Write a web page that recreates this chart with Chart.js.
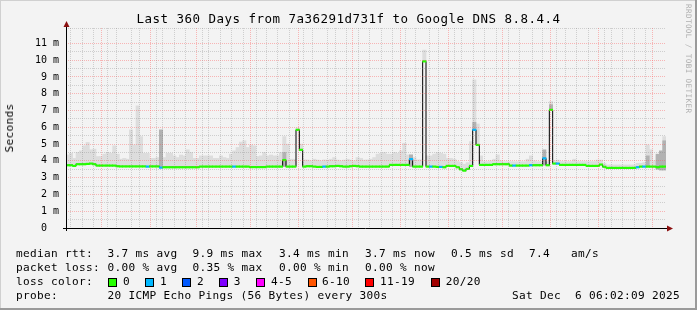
<!DOCTYPE html>
<html>
<head>
<meta charset="utf-8">
<script src="https://cdn.jsdelivr.net/npm/chart.js@4.4.1/dist/chart.umd.min.js"></script>
<style>
  html, body { margin: 0; padding: 0; background: #f3f3f3; }
  #wrap { position: relative; width: 697px; height: 310px; background: #f3f3f3; overflow: hidden; }
  #wrap canvas { position: absolute; left: 0; top: 0; }
  .t { position: absolute; font-family: 'DejaVu Sans Mono', monospace; white-space: pre; color: #000; }
  #title { left: 0; width: 697px; top: 11px; text-align: center; font-size: 12.5px; letter-spacing: 0.47px; line-height: 16px; }
  .lg { font-size: 11.1px; letter-spacing: 0.32px; line-height: 14px; }
  .box { position: absolute; width: 9px; height: 9px; box-sizing: border-box; border: 1px solid #000; }
  #ylab { left: 10px; top: 128px; font-size: 11.1px; letter-spacing: 0.32px; line-height: 14px;
          transform: translate(-50%, -50%) rotate(-90deg); }
  #wm { left: 684px; top: 4px; font-size: 7.6px; letter-spacing: 0.4px; color: #b0b0b0; writing-mode: vertical-rl; line-height: 8px; }
  #frame { position: absolute; left: 0; top: 0; width: 697px; height: 310px; pointer-events: none;
           box-shadow: inset -2px -2px 0 #9a9a9a, inset 1px 1px 0 #d0d0d0; }
</style>
</head>
<body>
<div id="wrap">
  <canvas id="chart" width="697" height="310"></canvas>
  <div class="t" id="title">Last 360 Days from 7a36291d731f to Google DNS 8.8.4.4</div>
  <div class="t" id="ylab">Seconds</div>
  <div class="t" id="wm">RRDTOOL / TOBI OETIKER</div>

  <div class="t lg" style="left:16px;top:247px">median rtt:</div>
  <div class="t lg" style="left:107.6px;top:247px">3.7 ms avg</div>
  <div class="t lg" style="left:192.4px;top:247px">9.9 ms max</div>
  <div class="t lg" style="left:279.1px;top:247px">3.4 ms min</div>
  <div class="t lg" style="left:364.9px;top:247px">3.7 ms now</div>
  <div class="t lg" style="left:451.1px;top:247px">0.5 ms sd</div>
  <div class="t lg" style="left:528.9px;top:247px">7.4   am/s</div>

  <div class="t lg" style="left:16px;top:261px">packet loss:</div>
  <div class="t lg" style="left:107.6px;top:261px">0.00 % avg</div>
  <div class="t lg" style="left:192.4px;top:261px">0.35 % max</div>
  <div class="t lg" style="left:279.1px;top:261px">0.00 % min</div>
  <div class="t lg" style="left:364.9px;top:261px">0.00 % now</div>

  <div class="t lg" style="left:16px;top:275px">loss color:</div>
  <div class="box" style="left:108px;top:277.5px;background:#26ff00"></div><div class="t lg" style="left:123px;top:275px">0</div>
  <div class="box" style="left:145.3px;top:277.5px;background:#00b8ff"></div><div class="t lg" style="left:160px;top:275px">1</div>
  <div class="box" style="left:182.2px;top:277.5px;background:#0059ff"></div><div class="t lg" style="left:197px;top:275px">2</div>
  <div class="box" style="left:219px;top:277.5px;background:#7e00ff"></div><div class="t lg" style="left:233.8px;top:275px">3</div>
  <div class="box" style="left:256.4px;top:277.5px;background:#ff00ff"></div><div class="t lg" style="left:271px;top:275px">4-5</div>
  <div class="box" style="left:307.6px;top:277.5px;background:#ff5500"></div><div class="t lg" style="left:322px;top:275px">6-10</div>
  <div class="box" style="left:365.3px;top:277.5px;background:#ff0000"></div><div class="t lg" style="left:380px;top:275px">11-19</div>
  <div class="box" style="left:431px;top:277.5px;background:#a10000"></div><div class="t lg" style="left:445.8px;top:275px">20/20</div>

  <div class="t lg" style="left:16px;top:289px">probe:</div>
  <div class="t lg" style="left:107.6px;top:289px">20 ICMP Echo Pings (56 Bytes) every 300s</div>
  <div class="t lg" style="right:17px;top:289px">Sat Dec  6 06:02:09 2025</div>
  <div id="frame"></div>
</div>
<script>
"use strict";

// 180 bins of 2 days each, Dec 11 2024 -> Dec 6 2025 (values in ms)
const median = [
  3.74, 3.74, 3.70, 3.80, 3.80, 3.80, 3.82, 3.84, 3.80, 3.72,
  3.72, 3.72, 3.72, 3.72, 3.72, 3.68, 3.67, 3.67, 3.67, 3.67,
  3.67, 3.67, 3.67, 3.67, 3.66, 3.67, 3.67, 3.67, 3.60, 3.62,
  3.62, 3.62, 3.62, 3.62, 3.62, 3.62, 3.62, 3.62, 3.62, 3.62,
  3.66, 3.66, 3.66, 3.66, 3.66, 3.66, 3.66, 3.66, 3.66, 3.66,
  3.66, 3.66, 3.66, 3.66, 3.66, 3.63, 3.63, 3.63, 3.63, 3.63,
  3.66, 3.66, 3.66, 3.66, 3.66, 4.05, 3.66, 3.66, 3.66, 5.85,
  4.66, 3.66, 3.68, 3.68, 3.66, 3.64, 3.64, 3.66, 3.66, 3.68,
  3.68, 3.70, 3.68, 3.66, 3.66, 3.68, 3.70, 3.68, 3.66, 3.66,
  3.66, 3.66, 3.66, 3.66, 3.66, 3.66, 3.66, 3.76, 3.76, 3.76,
  3.76, 3.76, 3.76, 4.10, 3.66, 3.66, 3.66, 9.93, 3.66, 3.66,
  3.66, 3.64, 3.64, 3.62, 3.70, 3.70, 3.70, 3.62, 3.50, 3.42,
  3.52, 3.70, 5.85, 4.95, 3.76, 3.76, 3.76, 3.76, 3.80, 3.80,
  3.80, 3.80, 3.80, 3.72, 3.72, 3.72, 3.72, 3.72, 3.72, 3.74,
  3.74, 3.74, 3.74, 4.15, 3.74, 7.04, 3.84, 3.84, 3.76, 3.76,
  3.76, 3.76, 3.76, 3.76, 3.76, 3.76, 3.70, 3.70, 3.70, 3.70,
  3.78, 3.65, 3.58, 3.58, 3.58, 3.58, 3.58, 3.58, 3.58, 3.58,
  3.58, 3.62, 3.66, 3.66, 3.66, 3.66, 3.66, 3.62, 3.66, 3.66
];

// lost pings per bin (index into lossColors)
const loss = [
  0, 0, 0, 0, 0, 0, 0, 0, 0, 0,
  0, 0, 0, 0, 0, 0, 0, 0, 0, 0,
  0, 0, 0, 0, 1, 0, 0, 0, 1, 0,
  0, 0, 0, 0, 0, 0, 0, 0, 0, 0,
  0, 0, 0, 0, 0, 0, 0, 0, 0, 0,
  1, 0, 0, 0, 0, 0, 0, 0, 0, 0,
  0, 0, 0, 0, 0, 0, 0, 0, 0, 0,
  0, 0, 0, 0, 0, 0, 0, 1, 0, 0,
  0, 0, 0, 0, 0, 0, 0, 0, 0, 0,
  0, 0, 0, 0, 0, 0, 0, 0, 0, 0,
  0, 0, 0, 1, 0, 0, 0, 0, 0, 1,
  0, 0, 1, 0, 0, 0, 0, 0, 0, 0,
  0, 0, 1, 0, 0, 0, 0, 0, 0, 0,
  0, 0, 0, 0, 1, 0, 0, 0, 0, 1,
  0, 0, 0, 1, 0, 0, 0, 1, 0, 0,
  0, 0, 0, 0, 0, 0, 0, 0, 0, 0,
  0, 0, 0, 0, 0, 0, 0, 0, 0, 0,
  0, 1, 0, 1, 0, 0, 0, 0, 0, 0
];

// top of the smoke (highest pings) per bin
const smokeHi = [
  4.36, 4.45, 4.15, 4.50, 4.60, 4.90, 5.10, 4.66, 4.70, 4.26,
  4.26, 4.40, 4.50, 4.45, 4.90, 4.40, 4.10, 4.15, 4.10, 5.85,
  4.95, 7.28, 5.45, 4.45, 4.45, 4.15, 4.15, 4.20, 4.30, 4.20,
  4.45, 4.45, 4.30, 4.20, 4.35, 4.30, 4.66, 4.50, 4.15, 4.15,
  4.30, 4.30, 4.30, 4.30, 4.15, 4.15, 4.30, 4.20, 4.15, 4.40,
  4.60, 4.80, 5.12, 5.20, 4.80, 4.95, 4.90, 4.26, 4.30, 4.50,
  4.30, 4.35, 4.30, 4.30, 4.50, 5.45, 5.00, 4.10, 4.10, 5.97,
  5.00, 4.06, 4.05, 4.00, 4.10, 4.05, 4.00, 4.06, 4.05, 4.10,
  4.20, 4.05, 4.00, 4.05, 4.10, 4.05, 4.00, 4.20, 4.15, 4.05,
  4.06, 4.10, 4.20, 4.40, 4.45, 4.50, 4.40, 4.40, 4.50, 4.45,
  4.60, 5.05, 4.36, 4.36, 4.20, 4.06, 4.06, 10.60, 4.30, 4.30,
  4.40, 4.50, 4.45, 4.40, 4.15, 4.15, 4.10, 3.96, 3.90, 3.80,
  3.90, 5.15, 8.83, 6.20, 4.30, 3.96, 3.96, 4.00, 4.10, 4.36,
  4.00, 3.95, 3.95, 3.95, 3.95, 3.95, 3.95, 3.95, 4.10, 4.30,
  4.00, 3.95, 3.95, 4.30, 3.95, 7.54, 4.00, 4.05, 3.96, 3.96,
  3.96, 3.96, 4.10, 3.96, 3.96, 3.96, 3.96, 3.96, 3.96, 4.05,
  4.05, 3.85, 3.76, 3.76, 3.76, 3.76, 3.76, 3.76, 3.76, 3.76,
  3.76, 3.86, 3.86, 3.90, 4.95, 4.66, 4.00, 4.30, 4.40, 5.45
];

// denser (darker) smoke where pings were lost
const darkBins = [28, 65, 103, 122, 143, 145, 174, 177, 178, 179];
const darkLo = [3.60, 3.66, 3.66, 5.85, 3.74, 7.04, 3.66, 3.50, 3.45, 3.45];
const darkHi = [5.85, 4.50, 4.36, 6.30, 4.66, 7.35, 4.30, 4.40, 4.60, 5.20];

const lossColors = ['#26ff00', '#00b8ff', '#0059ff', '#7e00ff', '#ff00ff', '#ff5500', '#ff0000', '#a10000'];

const monthLabels = ['January 2025', 'March 2025', 'May 2025', 'July 2025', 'September 2025', 'November 2025'];
const labelMonths = [0, 2, 4, 6, 8, 10];

const startMs = Date.UTC(2024, 11, 11, 6, 2, 9);
const spanDays = 360;

function dayOf(y, m, d) {
  return (Date.UTC(y, m, d) - startMs) / 86400000;
}

function buildTimeTicks() {
  let ticks = [];
  for (let w = 0; ; w++) {
    let v = dayOf(2024, 11, 15 + 7 * w);   // Sundays
    if (v > spanDays) break;
    ticks.push({ value: v, kind: 'week' });
  }
  for (let m = 0; m < 12; m++) {
    ticks.push({ value: dayOf(2025, m, 1), kind: 'month' });
  }
  labelMonths.forEach((m, i) => {
    ticks.push({ value: dayOf(2025, m, 16), kind: 'label', text: monthLabels[i] });
  });
  return ticks.sort((a, b) => a.value - b.value);
}
const timeTicks = buildTimeTicks();

let darkData = median.map(() => null);
darkBins.forEach((b, i) => { darkData[b] = [darkLo[i], darkHi[i]]; });

const GRID_MAJOR = 'rgba(255, 80, 80, 0.38)';
const GRID_MINOR = 'rgba(128, 128, 128, 0.32)';
const axisFont = { family: 'DejaVu Sans Mono', size: 10 };

const axesPlugin = {
  id: 'rrdAxes',
  afterDraw(chart) {
    const ctx = chart.ctx;
    const a = chart.chartArea;
    ctx.save();
    ctx.strokeStyle = '#000';
    ctx.lineWidth = 1;
    ctx.beginPath();
    ctx.moveTo(a.left - 3, a.bottom + 0.5);
    ctx.lineTo(a.right + 2, a.bottom + 0.5);
    ctx.moveTo(a.left + 0.5, a.bottom + 3);
    ctx.lineTo(a.left + 0.5, a.top - 4);
    ctx.stroke();
    ctx.fillStyle = '#8b1010';
    ctx.beginPath();
    ctx.moveTo(a.right + 7, a.bottom + 0.5);
    ctx.lineTo(a.right + 1, a.bottom - 2.5);
    ctx.lineTo(a.right + 1, a.bottom + 3.5);
    ctx.closePath();
    ctx.fill();
    ctx.beginPath();
    ctx.moveTo(a.left + 0.5, a.top - 7);
    ctx.lineTo(a.left - 2.5, a.top - 1);
    ctx.lineTo(a.left + 3.5, a.top - 1);
    ctx.closePath();
    ctx.fill();
    ctx.restore();
  }
};

const barCommon = {
  type: 'bar',
  grouped: false,
  barPercentage: 1,
  categoryPercentage: 1,
  borderWidth: 0,
  xAxisID: 'x',
  yAxisID: 'y'
};

new Chart(document.getElementById('chart'), {
  type: 'bar',
  data: {
    labels: median.map((v, i) => String(i)),
    datasets: [
      Object.assign({}, barCommon, {
        label: 'median',
        data: median.map(v => [v - 0.045, v + 0.045]),
        backgroundColor: loss.map(l => lossColors[l]),
        order: 1
      }),
      {
        type: 'line',
        label: 'median step',
        data: median,
        stepped: 'middle',
        borderColor: '#000',
        borderWidth: 1,
        pointRadius: 0,
        xAxisID: 'x',
        yAxisID: 'y',
        order: 2
      },
      Object.assign({}, barCommon, {
        label: 'dense smoke',
        data: darkData,
        backgroundColor: '#b2b2b2',
        order: 3
      }),
      Object.assign({}, barCommon, {
        label: 'smoke',
        data: median.map((v, i) => [v, smokeHi[i]]),
        backgroundColor: '#dddddd',
        order: 4
      })
    ]
  },
  options: {
    responsive: false,
    animation: false,
    events: [],
    layout: { padding: { left: 0, right: 31, top: 28, bottom: 82 } },
    plugins: { legend: { display: false }, tooltip: { enabled: false }, title: { display: false } },
    scales: {
      x: { type: 'category', display: false, offset: true, grid: { display: false } },
      y: {
        type: 'linear',
        position: 'left',
        min: 0,
        max: 11.92,
        afterFit: s => { s.width = 66; },
        ticks: {
          stepSize: 0.5,
          autoSkip: false,
          padding: 7,
          color: '#000',
          font: axisFont,
          callback: v => {
            if (Math.abs(v - Math.round(v)) > 1e-6) return '';
            return v === 0 ? '0  ' : Math.round(v) + ' m';
          }
        },
        grid: {
          z: 1,
          drawTicks: false,
          lineWidth: 1,
          color: c => (Math.abs(c.tick.value - Math.round(c.tick.value)) < 1e-6 ? GRID_MAJOR : GRID_MINOR)
        },
        border: { display: false, dash: [1, 1] }
      },
      xt: {
        type: 'linear',
        position: 'bottom',
        min: 0,
        max: spanDays,
        afterFit: s => { s.height = 0; },
        afterBuildTicks: s => { s.ticks = timeTicks.map(t => Object.assign({}, t)); },
        ticks: {
          autoSkip: false,
          maxRotation: 0,
          minRotation: 0,
          padding: 5,
          color: '#000',
          font: axisFont,
          callback: (v, i, ticks) => ticks[i].text || ''
        },
        grid: {
          z: 1,
          drawTicks: false,
          lineWidth: 1,
          color: c => {
            if (!c.tick) return 'rgba(0,0,0,0)';
            if (c.tick.kind === 'month') return GRID_MAJOR;
            if (c.tick.kind === 'week') return GRID_MINOR;
            return 'rgba(0,0,0,0)';
          }
        },
        border: { display: false, dash: [1, 1] }
      }
    }
  },
  plugins: [axesPlugin]
});
</script>
</body>
</html>
